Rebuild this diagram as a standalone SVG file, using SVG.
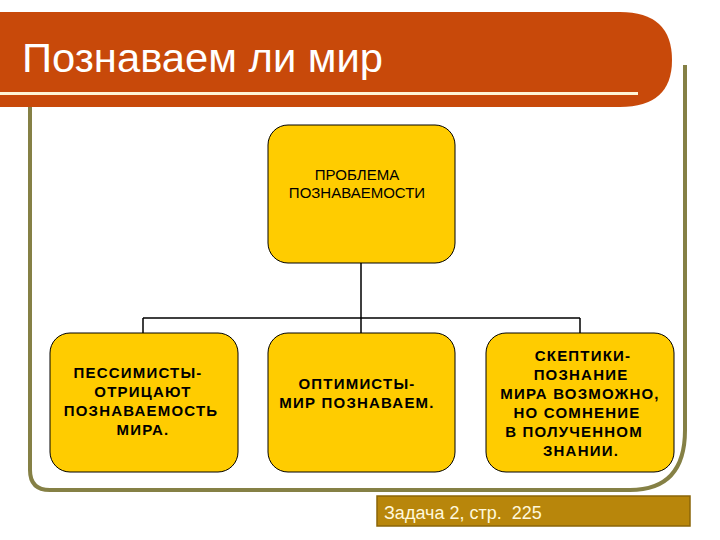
<svg xmlns="http://www.w3.org/2000/svg" width="720" height="540" viewBox="0 0 720 540">
<style>
.n{fill:#FFCC00;stroke:#000;stroke-width:1}
.t{font-family:"Liberation Sans",Arial,sans-serif;font-size:15px;text-anchor:middle;fill:#000}
.b{font-weight:bold;letter-spacing:1.2px}
.c{stroke:#000;stroke-width:1.5;fill:none}
</style>
<rect width="720" height="540" fill="#fff"/>
<path d="M30 107 V470 Q30 490 50 490 H630 Q685 490 685 430 V65" fill="none" stroke="#858045" stroke-width="4"/>
<path d="M0 12 H620 Q672 12 672 60 Q672 107 620 107 H0 Z" fill="#C8490A"/>
<rect x="0" y="92" width="638" height="3" fill="#FFF4D6"/>
<text x="22" y="72" font-family="'Liberation Sans',Arial,sans-serif" font-size="40" fill="#fff" textLength="361" lengthAdjust="spacingAndGlyphs">Познаваем ли мир</text>
<g id="connectors" class="c">
<path d="M361 263 V318 M143 318 H580 M143 318 V333 M361 318 V333 M580 318 V333"/>
</g>
<g id="n1"><rect class="n" x="268" y="125" width="187" height="138" rx="20"/>
<text class="t" x="357" y="180">ПРОБЛЕМА</text><text class="t" x="357" y="198">ПОЗНАВАЕМОСТИ</text></g>
<g id="n2"><rect class="n" x="50" y="333" width="188" height="139" rx="20"/>
<text class="t b"><tspan x="138" y="378">ПЕССИМИСТЫ-</tspan><tspan x="143" y="397">ОТРИЦАЮТ</tspan><tspan x="141" y="416">ПОЗНАВАЕМОСТЬ</tspan><tspan x="143" y="435">МИРА.</tspan></text></g>
<g id="n3"><rect class="n" x="268" y="333" width="187" height="139" rx="20"/>
<text class="t b"><tspan x="357" y="389">ОПТИМИСТЫ-</tspan><tspan x="357" y="408">МИР ПОЗНАВАЕМ.</tspan></text></g>
<g id="n4"><rect class="n" x="486" y="333" width="188" height="139" rx="20"/>
<text class="t b"><tspan x="583" y="361">СКЕПТИКИ-</tspan><tspan x="581" y="380">ПОЗНАНИЕ</tspan><tspan x="580" y="399">МИРА ВОЗМОЖНО,</tspan><tspan x="577" y="418">НО СОМНЕНИЕ</tspan><tspan x="574" y="437">В ПОЛУЧЕННОМ</tspan><tspan x="581" y="456">ЗНАНИИ.</tspan></text></g>
<g id="task"><rect x="377" y="496" width="313" height="30" fill="#B8860B" stroke="#8B6508" stroke-width="1.5"/>
<text x="384" y="519" font-family="'Liberation Sans',Arial,sans-serif" font-size="18" fill="#FFF8DC" xml:space="preserve">Задача 2, стр.  225</text></g>
</svg>
